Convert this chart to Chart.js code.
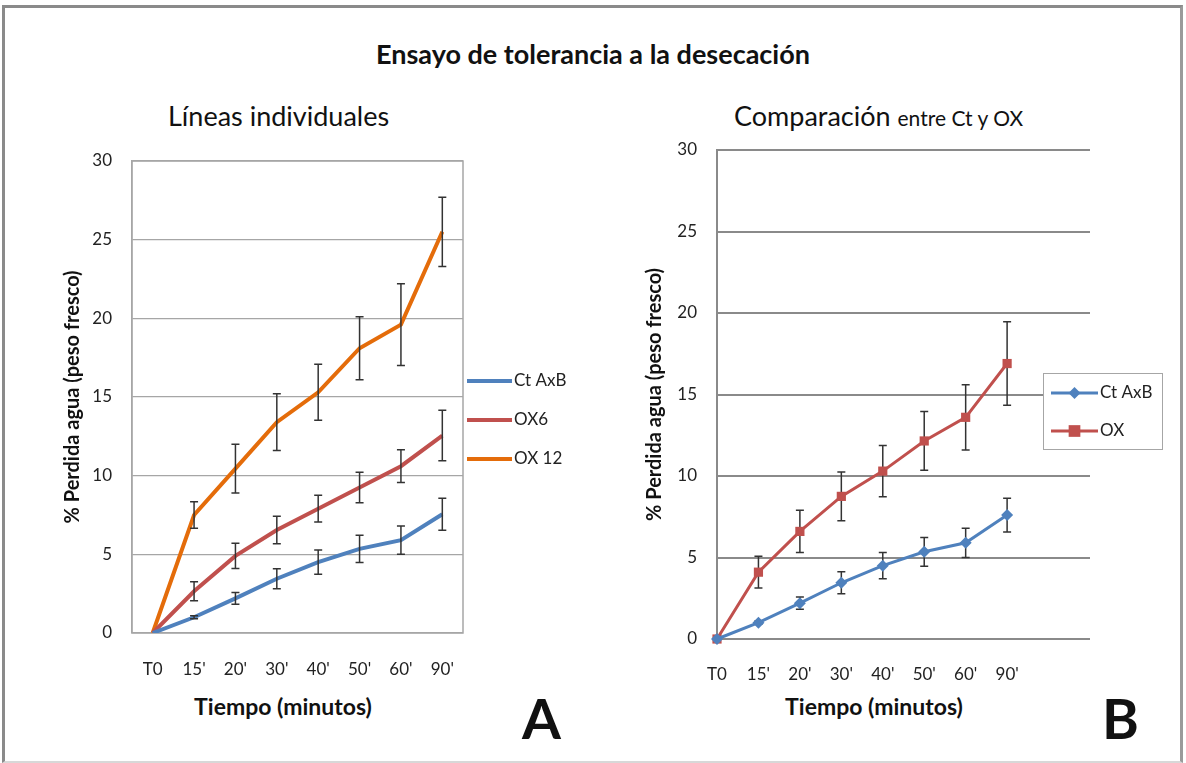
<!DOCTYPE html>
<html>
<head>
<meta charset="utf-8">
<script src="https://cdn.jsdelivr.net/npm/chart.js@4.4.1/dist/chart.umd.min.js"></script>
<style>
  body { margin: 0; width: 1186px; height: 763px; background: #fff; position: relative; overflow: hidden; font-family: Lato, "Open Sans", sans-serif; color: #111; }
  .frame { position: absolute; left: 2px; top: 5px; width: 1175px; height: 753px; border: 3px solid #8a8a8a; border-bottom: 2px solid #d8d8d8; border-right-color: #9a9a9a; }
  .txt { position: absolute; white-space: nowrap; line-height: 1.2; }
  canvas { position: absolute; }
</style>
</head>
<body>
<div class="frame"></div>
<div class="txt" style="left:0;width:1186px;text-align:center;top:38px;font-size:27px;font-weight:bold;">Ensayo de tolerancia a la desecación</div>
<div class="txt" style="left:168px;top:100px;font-size:27px;">Líneas individuales</div>
<div class="txt" style="left:734px;top:100px;font-size:27px;">Comparación <span style="font-size:21px;">entre Ct y OX</span></div>
<div class="txt" style="left:163px;width:240px;text-align:center;top:693px;font-size:23px;font-weight:bold;">Tiempo (minutos)</div>
<div class="txt" style="left:754px;width:240px;text-align:center;top:693px;font-size:23px;font-weight:bold;">Tiempo (minutos)</div>
<div class="txt" style="left:522px;top:684px;font-size:56px;font-weight:bold;">A</div>
<div class="txt" style="left:1102px;top:684px;font-size:56px;font-weight:bold;">B</div>

<canvas id="chartA" width="560" height="640" style="left:30px;top:95px;width:560px;height:640px;"></canvas>
<canvas id="chartB" width="570" height="640" style="left:610px;top:95px;width:570px;height:640px;"></canvas>

<script>
// ===== DATOS =====
const tiempos = ["T0", "15'", "20'", "30'", "40'", "50'", "60'", "90'"];
const tiemposB = ["T0", "15'", "20'", "30'", "40'", "50'", "60'", "90'", "", ""];

// A: líneas individuales
const ctAxB    = [0, 1.0, 2.2, 3.45, 4.5, 5.35, 5.9, 7.55];
const ctAxBErr = [0, 0.1, 0.38, 0.64, 0.77, 0.87, 0.9, 1.02];
const ox6      = [0, 2.65, 4.9, 6.55, 7.9, 9.25, 10.6, 12.55];
const ox6Err   = [0, 0.6, 0.8, 0.87, 0.85, 0.97, 1.04, 1.6];
const ox12     = [0, 7.5, 10.45, 13.4, 15.3, 18.1, 19.6, 25.5];
const ox12Err  = [0, 0.85, 1.55, 1.8, 1.78, 2.0, 2.6, 2.2];

// B: comparación Ct vs OX
const ctB    = [0, 1.0, 2.2, 3.45, 4.5, 5.35, 5.9, 7.6];
const ctBErr = [0, 0.1, 0.37, 0.67, 0.8, 0.88, 0.9, 1.04];
const oxB    = [0, 4.1, 6.6, 8.75, 10.3, 12.15, 13.6, 16.9];
const oxBErr = [0, 0.97, 1.3, 1.5, 1.57, 1.8, 2.0, 2.56];

const yTicks = [0, 5, 10, 15, 20, 25, 30];

const AZUL = "#4F81BD";
const ROJO = "#C0504D";
const NARANJA = "#E46C0A";

Chart.defaults.font.family = "Lato, 'Open Sans', sans-serif";
Chart.defaults.color = "#222";
Chart.defaults.animation = false;

// ===== PLUGIN: barras de error =====
const errorBars = {
  id: "errorBars",
  draw(chart) {
    const ctx = chart.ctx;
    const y = chart.scales.y;
    ctx.save();
    ctx.strokeStyle = "#333";
    ctx.lineWidth = 1.5;
    chart.data.datasets.forEach((ds, i) => {
      if (!ds.errors) return;
      const meta = chart.getDatasetMeta(i);
      meta.data.forEach((pt, j) => {
        const e = ds.errors[j];
        if (!e) return;
        const v = ds.data[j];
        const top = y.getPixelForValue(v + e);
        const bot = y.getPixelForValue(v - e);
        const x = pt.x;
        ctx.beginPath();
        ctx.moveTo(x, top); ctx.lineTo(x, bot);
        ctx.moveTo(x - 4, top); ctx.lineTo(x + 4, top);
        ctx.moveTo(x - 4, bot); ctx.lineTo(x + 4, bot);
        ctx.stroke();
      });
    });
    ctx.restore();
  },
  beforeDatasetsDraw(chart, args, opts) { if (!opts.over) this.draw(chart); },
  afterDatasetsDraw(chart, args, opts) { if (opts.over) this.draw(chart); }
};

// ===== PLUGIN: marco del área =====
const plotFrame = {
  id: "plotFrame",
  beforeDatasetsDraw(chart, args, opts) {
    if (!opts.show) return;
    const a = chart.chartArea;
    const ctx = chart.ctx;
    ctx.save();
    ctx.strokeStyle = opts.color;
    ctx.lineWidth = 1.5;
    ctx.strokeRect(a.left, a.top, a.right - a.left, a.bottom - a.top);
    ctx.restore();
  }
};

// ===== PLUGIN: leyenda estilo Excel =====
const excelLegend = {
  id: "excelLegend",
  afterDraw(chart, args, opts) {
    const a = chart.chartArea;
    const ctx = chart.ctx;
    ctx.save();
    if (opts.box) {
      const b = opts.box;
      ctx.fillStyle = "#fff";
      ctx.fillRect(a.right + b.x, a.top + b.y, b.w, b.h);
      ctx.strokeStyle = "#a6a6a6";
      ctx.lineWidth = 1;
      ctx.strokeRect(a.right + b.x + 0.5, a.top + b.y + 0.5, b.w, b.h);
    }
    ctx.font = "17px Lato, 'Open Sans', sans-serif";
    ctx.textBaseline = "middle";
    chart.data.datasets.forEach((ds, i) => {
      const x0 = a.right + opts.x;
      const yy = a.top + opts.y + i * opts.gap;
      ctx.strokeStyle = ds.borderColor;
      ctx.lineWidth = opts.lineWidth;
      ctx.beginPath();
      ctx.moveTo(x0, yy); ctx.lineTo(x0 + opts.len, yy);
      ctx.stroke();
      if (opts.markers) {
        ctx.fillStyle = ds.backgroundColor;
        const cx = x0 + opts.len / 2;
        const r = ds.pointRadius;
        ctx.beginPath();
        if (ds.pointStyle === "rect") {
          ctx.rect(cx - r * 0.9, yy - r * 0.9, r * 1.8, r * 1.8);
        } else {
          ctx.moveTo(cx, yy - r); ctx.lineTo(cx + r, yy); ctx.lineTo(cx, yy + r); ctx.lineTo(cx - r, yy);
          ctx.closePath();
        }
        ctx.fill();
      }
      ctx.fillStyle = "#222";
      ctx.fillText(ds.label, x0 + opts.len + 2, yy);
    });
    ctx.restore();
  }
};

function yScale(width, titlePad, gridColor, gridWidth) {
  return {
    min: 0, max: 30,
    afterFit(s) { s.width = width; },
    afterBuildTicks(s) { s.ticks = yTicks.map(v => ({ value: v })); },
    ticks: { padding: 20, font: { size: 17 }, color: "#222" },
    grid: { color: gridColor, lineWidth: gridWidth, drawTicks: false },
    border: { display: true, color: gridColor, width: gridWidth },
    title: {
      display: true, text: "% Perdida agua (peso fresco)",
      font: { size: 20, weight: "bold" }, color: "#111",
      padding: { top: titlePad }
    }
  };
}

// ===== GRÁFICO A =====
new Chart(document.getElementById("chartA"), {
  type: "line",
  data: {
    labels: tiempos,
    datasets: [
      { label: "Ct AxB", data: ctAxB, errors: ctAxBErr, borderColor: AZUL, backgroundColor: AZUL, borderWidth: 4, pointRadius: 0, tension: 0 },
      { label: "OX6", data: ox6, errors: ox6Err, borderColor: ROJO, backgroundColor: ROJO, borderWidth: 4, pointRadius: 0, tension: 0 },
      { label: "OX 12", data: ox12, errors: ox12Err, borderColor: NARANJA, backgroundColor: NARANJA, borderWidth: 4, pointRadius: 0, tension: 0 }
    ]
  },
  options: {
    responsive: false,
    layout: { padding: { left: 0, right: 127, top: 66, bottom: 2 } },
    scales: {
      x: {
        offset: true,
        afterFit(s) { s.height = 100; },
        ticks: { padding: 18, font: { size: 17 }, color: "#222", autoSkip: false, maxRotation: 0 },
        grid: { display: false },
        border: { display: false }
      },
      y: yScale(102, 31, "#a6a6a6", 1.3)
    },
    plugins: {
      legend: { display: false },
      tooltip: { enabled: false },
      errorBars: { over: true },
      plotFrame: { show: true, color: "#a6a6a6" },
      excelLegend: { x: 4, y: 220, gap: 39, len: 45, lineWidth: 4, markers: false }
    }
  },
  plugins: [errorBars, plotFrame, excelLegend]
});

// ===== GRÁFICO B =====
new Chart(document.getElementById("chartB"), {
  type: "line",
  data: {
    labels: tiemposB,
    datasets: [
      { label: "Ct AxB", data: ctB, errors: ctBErr, borderColor: AZUL, backgroundColor: AZUL, borderWidth: 3, pointStyle: "rectRot", pointRadius: 6, pointBorderWidth: 0, tension: 0, clip: false },
      { label: "OX", data: oxB, errors: oxBErr, borderColor: ROJO, backgroundColor: ROJO, borderWidth: 3, pointStyle: "rect", pointRadius: 6.5, pointBorderWidth: 0, tension: 0, clip: false }
    ]
  },
  options: {
    responsive: false,
    layout: { padding: { left: 0, right: 90, top: 55, bottom: 0 } },
    scales: {
      x: {
        offset: false,
        afterFit(s) { s.height = 96; },
        ticks: { padding: 17, font: { size: 17 }, color: "#222", autoSkip: false, maxRotation: 0 },
        grid: { display: false },
        border: { display: false }
      },
      y: yScale(107, 33, "#8a8a8a", 2)
    },
    plugins: {
      legend: { display: false },
      tooltip: { enabled: false },
      errorBars: { over: false },
      plotFrame: { show: false },
      excelLegend: { x: -39, y: 243, gap: 38, len: 47, lineWidth: 3, markers: true, box: { x: -47, y: 223, w: 119, h: 76 } }
    }
  },
  plugins: [errorBars, plotFrame, excelLegend]
});
</script>
</body>
</html>
